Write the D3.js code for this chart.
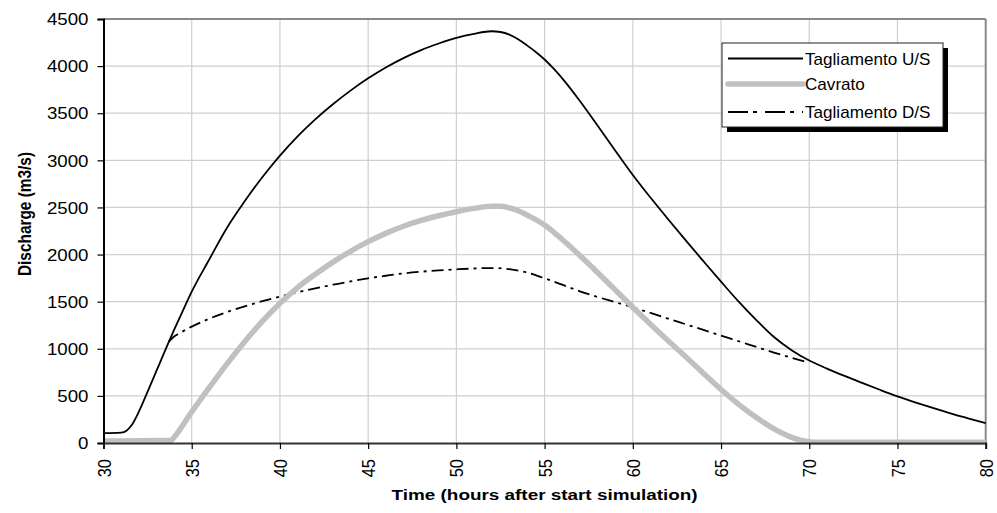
<!DOCTYPE html>
<html>
<head>
<meta charset="utf-8">
<script src="https://cdn.jsdelivr.net/npm/d3@7"></script>
<style>
  html, body { margin: 0; padding: 0; background: #fff; }
  svg { display: block; font-family: "Liberation Sans", Arial, sans-serif; }
</style>
</head>
<body>
<svg id="chart" width="997" height="513"></svg>
<script>
// ---- data ----
const xTicks = [30, 35, 40, 45, 50, 55, 60, 65, 70, 75, 80];
const yTicks = [0, 500, 1000, 1500, 2000, 2500, 3000, 3500, 4000, 4500];
const seriesNames = ["Tagliamento U/S", "Cavrato", "Tagliamento D/S"];
const xTitle = "Time (hours after start simulation)";
const yTitle = "Discharge (m3/s)";

const usData = [[30,105],[31,110],[31.3,130],[31.6,190],[32,330],[32.5,545],[33,765],[33.5,985],[34,1200],[34.5,1405],[35,1606],
  [36,1950],[37,2285],[38,2565],[39,2820],[40,3050],[41,3255],[42,3435],[43,3595],[44,3740],[45,3870],[46,3985],[47,4085],
  [48,4170],[49,4240],[50,4300],[51,4343],[52,4370],[52.5,4362],[53,4335],[53.5,4285],[54,4220],[54.5,4150],[55,4070],
  [55.5,3975],[56,3870],[57,3630],[58,3370],[59,3105],[60,2845],[61,2605],[62,2375],[63,2150],[64,1930],[65,1712],[66,1500],
  [67,1305],[68,1125],[69,985],[70,875],[71,790],[72,712],[73,638],[74,565],[75,495],[76,432],[77,372],[78,315],[79,262],[80,210]];

const cavData = [[30,20],[33.85,28],[34,60],[35,330],[36,590],[37,840],[38,1075],[39,1290],[40,1483],[41,1650],[42,1790],
  [43,1920],[44,2035],[45,2137],[46,2225],[47,2300],[48,2362],[49,2412],[50,2455],[51,2490],[52,2512],[52.5,2512],[53,2495],
  [53.5,2465],[54,2420],[55,2314],[56,2160],[57,1990],[58,1810],[59,1625],[60,1440],[61,1260],[62,1085],[63,915],[64,740],
  [65,568],[66,410],[67,270],[68,150],[69,60],[69.5,30],[70,14],[70.5,8],[80,8]];

const dsData = [[33.7,1075],[34,1130],[34.3,1164],[35,1235],[36,1320],[37,1390],[38,1450],[39,1505],[40,1553],[41,1600],
  [42,1640],[43,1680],[44,1715],[45,1748],[46,1775],[47,1800],[48,1818],[49,1832],[50,1843],[51,1852],[52,1857],[53,1845],
  [54,1810],[55,1748],[56,1680],[57,1610],[58,1550],[59,1495],[60,1440],[61,1380],[62,1320],[63,1260],[64,1200],[65,1140],
  [66,1080],[67,1020],[68,960],[69,905],[69.8,863]];

// ---- layout ----
const svg = d3.select("#chart");
const L = 103.5, R = 985.7, T = 19, B = 443;
const x = d3.scaleLinear().domain([30, 80]).range([L, R]);
const y = d3.scaleLinear().domain([0, 4500]).range([B, T]);
const SX = 1.14;

// gridlines
const grid = svg.append("g");
grid.selectAll("line.h").data(yTicks.filter(d => d > 0 && d < 4500)).join("line")
  .attr("x1", L).attr("x2", R).attr("y1", d => y(d)).attr("y2", d => y(d))
  .attr("stroke", "#cfcfcf").attr("stroke-width", 1.2);
grid.selectAll("line.v").data(xTicks.filter(d => d > 30 && d < 80)).join("line")
  .attr("x1", d => x(d)).attr("x2", d => x(d)).attr("y1", T).attr("y2", B)
  .attr("stroke", "#cfcfcf").attr("stroke-width", 1.2);

// top/right border
svg.append("line").attr("x1", L).attr("x2", R).attr("y1", T).attr("y2", T).attr("stroke", "#888").attr("stroke-width", 2);
svg.append("line").attr("x1", R).attr("x2", R).attr("y1", T).attr("y2", B).attr("stroke", "#888").attr("stroke-width", 2);

// series
const line = d3.line().x(d => x(d[0])).y(d => y(d[1])).curve(d3.curveMonotoneX);
svg.append("path").datum(dsData).attr("d", line).attr("fill", "none")
  .attr("stroke", "#000").attr("stroke-width", 1.8).attr("stroke-dasharray", "12,5,3,5");
svg.append("path").datum(cavData).attr("d", line).attr("fill", "none")
  .attr("stroke", "#c0c0c0").attr("stroke-width", 5.5).attr("stroke-linejoin", "round");
svg.append("path").datum(usData).attr("d", line).attr("fill", "none")
  .attr("stroke", "#000").attr("stroke-width", 1.8);

// axes
const yAxis = d3.axisLeft(y).tickValues(yTicks).tickSize(6).tickFormat(d3.format("d"));
const gy = svg.append("g").attr("transform", `translate(${L},0)`).call(yAxis);
gy.select(".domain").attr("stroke", "#000").attr("stroke-width", 2);
gy.selectAll(".tick line").attr("stroke", "#000").attr("stroke-width", 1.2);
gy.selectAll(".tick text").remove();
gy.selectAll(".tick").append("text")
  .attr("transform", `translate(-15,0) scale(${SX},1)`)
  .attr("text-anchor", "end").attr("dy", "0.35em")
  .attr("fill", "#000").style("font-size", "16.4px")
  .text(d => d);

const xAxis = d3.axisBottom(x).tickValues(xTicks).tickSize(6).tickFormat(d3.format("d"));
const gx = svg.append("g").attr("transform", `translate(0,${B})`).call(xAxis);
gx.select(".domain").attr("stroke", "#333").attr("stroke-width", 2);
gx.selectAll(".tick line").attr("stroke", "#000").attr("stroke-width", 1.2);
gx.selectAll(".tick text").remove();
gx.selectAll(".tick").append("text")
  .attr("transform", `translate(0,16) scale(${SX},1) rotate(-90)`)
  .attr("text-anchor", "end").attr("dy", "0.35em")
  .attr("fill", "#000").style("font-size", "16.4px")
  .text(d => d);

// axis titles
svg.append("text")
  .attr("transform", `translate(${(L + R) / 2},500) scale(1.22,1)`)
  .attr("text-anchor", "middle").style("font-size", "15.5px").style("font-weight", "bold")
  .text(xTitle);
svg.append("text")
  .attr("transform", `translate(31,214) scale(1.2,1) rotate(-90)`)
  .attr("text-anchor", "middle").style("font-size", "15.4px").style("font-weight", "bold")
  .text(yTitle);

// legend
const lg = svg.append("g");
lg.append("rect").attr("x", 727).attr("y", 48).attr("width", 221).attr("height", 84).attr("fill", "#000");
lg.append("rect").attr("x", 722).attr("y", 43).attr("width", 221).attr("height", 84)
  .attr("fill", "#fff").attr("stroke", "#222").attr("stroke-width", 1);
const legStyles = [
  { stroke: "#000", w: 1.8, dash: null },
  { stroke: "#c0c0c0", w: 5.5, dash: null },
  { stroke: "#000", w: 2.2, dash: "20,5,4,8" }
];
const rowY = [58.5, 84, 112];
seriesNames.forEach((name, i) => {
  const s = legStyles[i];
  const ln = lg.append("line").attr("x1", 728).attr("x2", 803).attr("y1", rowY[i]).attr("y2", rowY[i])
    .attr("stroke", s.stroke).attr("stroke-width", s.w).attr("stroke-linecap", i === 1 ? "round" : "butt");
  if (s.dash) ln.attr("stroke-dasharray", s.dash);
  lg.append("text").attr("transform", `translate(805,${rowY[i] + 6}) scale(1.03,1)`)
    .style("font-size", "16.6px").text(name);
});
</script>
</body>
</html>
